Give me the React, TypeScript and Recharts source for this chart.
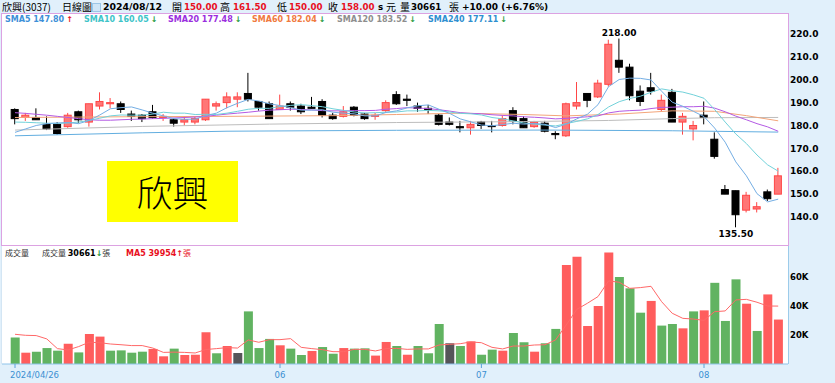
import React from 'react';
import { ComposedChart, Bar, Line, XAxis, YAxis, Cell, ReferenceDot } from 'recharts';

// ── Trading days (2024) ──
const DATES = [
  '04/26', '04/29', '04/30',
  '05/02', '05/03', '05/06', '05/07', '05/08', '05/09', '05/10', '05/13', '05/14', '05/15', '05/16', '05/17',
  '05/20', '05/21', '05/22', '05/23', '05/24', '05/27', '05/28', '05/29', '05/30', '05/31',
  '06/03', '06/04', '06/05', '06/06', '06/07', '06/11', '06/12', '06/13', '06/14', '06/17', '06/18', '06/19',
  '06/20', '06/21', '06/24', '06/25', '06/26', '06/27', '06/28',
  '07/01', '07/02', '07/03', '07/04', '07/05', '07/08', '07/09', '07/10', '07/11', '07/12', '07/15', '07/16',
  '07/17', '07/18', '07/19', '07/22', '07/23', '07/26', '07/29', '07/30', '07/31',
  '08/01', '08/02', '08/05', '08/06', '08/07', '08/08', '08/09', '08/12',
];

const OPEN = [
  187, 183.5, 183.5, 180.5, 180.5, 179.5, 186, 181.5, 188.5, 189.5,
  189.5, 185, 184.5, 186, 183.5, 182.5, 181.5, 181.5, 182.5, 188.5,
  190, 191.5, 194, 190.5, 189.5, 187, 189.5, 188.5, 188, 190.5,
  184.5, 184, 188, 185, 184, 186.5, 193.5, 191.5, 188.5, 187.5,
  184.5, 181.5, 179.5, 179, 181.5, 180, 180, 186.5, 183, 179.5,
  181, 176.5, 175.5, 188.5, 194, 192.5, 198, 208.5, 205.5, 195,
  196.5, 187, 194.5, 181.5, 178.5, 184.5, 174, 152, 151.5, 143,
  143.5, 151, 150,
];
const HIGH = [
  187.5, 185.5, 187.5, 184, 181.5, 185.5, 186.5, 189.5, 194.5, 192,
  190.5, 186.5, 185, 189, 185, 183, 184, 184, 191.5, 190.5,
  194.5, 194.5, 203, 190.5, 190.5, 193.5, 190.5, 189.5, 192.5, 191.5,
  185.5, 188.5, 188.5, 185.5, 185.5, 191, 195, 193.5, 190, 189,
  185, 183.5, 182, 182, 182, 182, 184.5, 188, 184, 182,
  182, 177.5, 190, 199, 194, 200, 217.5, 218, 207, 197.5,
  203, 193.5, 196, 185.5, 182, 190.5, 177, 154, 151.5, 151,
  146.5, 152, 161.5,
];
const LOW = [
  180.5, 182, 182.5, 178, 176, 179, 181, 179.5, 187, 187.5,
  185.5, 182, 181.5, 183, 182, 179.5, 180, 180.5, 182, 186.5,
  187.5, 188, 190.5, 186.5, 183, 187, 186.5, 185, 187.5, 183.5,
  182.5, 183.5, 184, 182.5, 182.5, 186, 189, 188.5, 186, 185,
  180, 180, 177, 176, 178.5, 177, 179.5, 180.5, 179, 179,
  177, 174, 175, 187, 188, 192, 197, 203, 191, 188.5,
  193.5, 186, 181.5, 176, 173.5, 180.5, 165.5, 150, 135.5, 142,
  142, 147, 150,
];
const CLOSE = [
  183, 184.5, 182.5, 178.5, 176.5, 184.5, 182.5, 189.5, 190.5, 190,
  187, 184, 183, 183.5, 184, 181, 182.5, 183, 191.5, 189.5,
  192.5, 192.5, 191.5, 188, 183, 188.5, 188, 186, 187.5, 184.5,
  183, 186, 184.5, 183, 184.5, 190, 189.5, 191, 187.5, 187,
  180.5, 180.5, 179, 180.5, 180, 179.5, 183, 182, 179, 181.5,
  177.5, 176, 189.5, 190, 191, 198.5, 215.5, 205.5, 193, 190.5,
  195, 191, 181.5, 184, 180, 183.5, 166.5, 150, 141, 149.5,
  144.5, 148, 158,
];
const PREV_CLOSE = 186; // close of the day before 04/26

const VOLUME = [
  18200, 7800, 8500, 11000, 9200, 14000, 8000, 20700, 18900, 9200,
  9400, 7800, 8500, 10400, 5300, 10600, 6200, 6400, 21900, 7400,
  12400, 7600, 36300, 11000, 17300, 12900, 10600, 6200, 9000, 11700,
  7100, 11000, 10600, 10800, 5800, 15200, 12400, 6400, 12400, 7400,
  27600, 14300, 12400, 15600, 6400, 9900, 9200, 21400, 15000, 8500,
  14300, 24200, 68300, 74000, 26200, 40000, 77000, 60000, 52200, 35400,
  43500, 26500, 27600, 24600, 36300, 37000, 56000, 29700, 58400, 41600,
  22800, 48000, 30661,
];
const VOL_MA5 = [
  20500, 19800, 19600, 17300, 10600, 9700, 12000, 15000, 14700, 13800,
  13300, 12700, 12700, 11000, 8000, 8200, 8000, 7600, 10000, 10600,
  11300, 11000, 16600, 15000, 16800, 16800, 17500, 11500, 10600, 9900,
  8500, 8500, 10100, 10100, 9000, 10600, 10800, 10100, 10400, 10400,
  13100, 13600, 14000, 15200, 14700, 11500, 10400, 12400, 12400, 13100,
  13300, 16600, 26900, 37700, 41900, 46500, 57300, 56400, 52200, 52700,
  53600, 43000, 35000, 31500, 31000, 30100, 36100, 36600, 44200, 44600,
  42600, 40000, 39954,
];

const SMA5 = [
  177, 178.5, 180, 180.8, 181.1, 181.3, 180.8, 182.2, 184.6, 187.3,
  187.8, 188.1, 186.8, 185.4, 184.2, 183, 182.7, 182.8, 184.3, 185.4,
  187.8, 189.7, 191.4, 190.7, 189.5, 188.7, 187.8, 186.7, 186.7, 186.9,
  185.8, 185.4, 185.1, 184.2, 184.2, 185.7, 186.4, 187.7, 188.6, 189,
  187.1, 185.3, 182.9, 181.6, 180.2, 179.9, 180.4, 181, 180.6, 180.9,
  180.5, 179.1, 180.6, 182.9, 184.9, 189.1, 197, 200.1, 200.7, 200.6,
  199.9, 195, 190.2, 188.4, 186.2, 183.9, 178.9, 172.7, 164.1, 158,
  150.2, 146.6, 147.8,
];
const SMA10 = [
  181.5, 181.4, 181.2, 181, 180.9, 181.1, 181.5, 182.2, 183.2, 184.2,
  184.6, 184.5, 184.5, 185, 185.8, 185.4, 185.4, 184.8, 184.9, 184.8,
  185.4, 186.2, 187.1, 187.5, 187.5, 188.3, 188.8, 189.1, 188.7, 188.2,
  187.3, 186.6, 185.9, 185.5, 185.6, 185.8, 185.9, 186.4, 186.4, 186.6,
  186.4, 185.9, 185.3, 185.1, 184.6, 183.5, 182.9, 182, 181.1, 180.6,
  180.2, 179.8, 180.8, 181.8, 182.9, 184.8, 188.1, 190.4, 191.8, 192.8,
  194.5, 196, 195.2, 194.6, 193.4, 191.9, 187, 181.5, 176.3, 172.1,
  167.1, 162.8, 160.05,
];
const SMA20 = [
  185.6, 185.3, 184.9, 184.5, 184, 183.5, 183, 182.5, 182.3, 182.3,
  182.5, 182.7, 182.8, 183, 183.1, 183.3, 183.5, 183.7, 184, 184.5,
  185, 185.4, 185.8, 186.3, 186.7, 186.9, 187.1, 187, 186.8, 186.5,
  186.4, 186.4, 186.5, 186.5, 186.6, 187.1, 187.4, 187.8, 187.6, 187.4,
  186.9, 186.3, 185.6, 185.3, 185.1, 184.7, 184.4, 184.2, 183.8, 183.6,
  183.3, 182.9, 183.1, 183.5, 183.8, 184.2, 185.5, 186.2, 186.5, 186.7,
  187.4, 187.9, 188, 188.2, 188.2, 188.4, 187.6, 186, 184.1, 182.5,
  180.8, 179.4, 177.48,
];
// long averages are almost straight, so they are read at a few days only: [day index, value]
const SMA60_PTS = [[0, 183.5], [10, 183.8], [20, 184], [30, 184.3], [36, 184.8], [42, 185.4], [48, 184.8], [52, 184.2], [57, 185], [62, 186.4], [66, 186.2], [69, 184.3], [72, 182.04]];
const SMA120_PTS = [[0, 178], [12, 179.6], [24, 180.6], [36, 181.3], [48, 181.7], [56, 182.2], [62, 183], [66, 183.4], [72, 183.52]];
const SMA240_PTS = [[0, 175.5], [12, 176.8], [20, 177.5], [36, 177.9], [50, 178], [62, 177.7], [72, 177.11]];

const PRICE_TICKS = [140, 150, 160, 170, 180, 190, 200, 210, 220];
const VOL_TICKS = [20000, 40000, 60000];
const DATE_LABELS: Record<string, string> = { '04/26': '2024/04/26', '06/03': '06', '07/01': '07', '08/01': '08' };

const rows = DATES.map((d, i) => ({
  d,
  o: OPEN[i],
  h: HIGH[i],
  l: LOW[i],
  c: CLOSE[i],
  range: [LOW[i], HIGH[i]],
  prev: i === 0 ? PREV_CLOSE : CLOSE[i - 1],
  vol: VOLUME[i],
  volMa: VOL_MA5[i],
  ma5: SMA5[i],
  ma10: SMA10[i],
  ma20: SMA20[i],
  ma60: null as number | null,
  ma120: null as number | null,
  ma240: null as number | null,
}));
SMA60_PTS.forEach(([i, v]) => (rows[i].ma60 = v));
SMA120_PTS.forEach(([i, v]) => (rows[i].ma120 = v));
SMA240_PTS.forEach(([i, v]) => (rows[i].ma240 = v));

const CJK = '"Noto Sans CJK TC", "Noto Sans CJK SC", sans-serif';
const LATIN = '"DejaVu Sans", Verdana, sans-serif';
const RED_TXT = '#e8101e';
const GREEN_ARROW = '#1e9a3c';

// candle drawn inside the low..high range bar
function Candle(props: any) {
  const { x, y, width, height, payload } = props;
  if (!payload || height == null) return null;
  const { o, h, l, c } = payload;
  const hh = Math.abs(height);
  const top = height >= 0 ? y : y + height;
  const ppu = h > l ? hh / (h - l) : 0;
  const py = (v: number) => top + (h - v) * ppu;
  const cx = x + width / 2;
  const up = c > o;
  const edge = up ? '#ff4646' : '#000';
  const fill = up ? '#ff7676' : '#000';
  const bTop = py(Math.max(o, c));
  const bh = Math.max(py(Math.min(o, c)) - bTop, 1);
  return (
    <g>
      <line x1={cx} x2={cx} y1={top} y2={top + hh} stroke={edge} strokeWidth={1} />
      <rect x={cx - 3.5} y={bTop} width={7} height={bh} fill={fill} stroke={edge} strokeWidth={1} />
    </g>
  );
}

function DateTick(props: any) {
  const { x, y, payload } = props;
  const label = DATE_LABELS[payload?.value];
  if (!label) return <g />;
  const first = payload.value === DATES[0];
  return (
    <g>
      <line x1={x} x2={x} y1={y - 8} y2={y - 4} stroke="#5aa2da" strokeWidth={1} />
      <text x={first ? x - 5 : x} y={y + 6} textAnchor={first ? 'start' : 'middle'} fontSize={8.5} fill="#3a8fd2" fontFamily={LATIN}>
        {label}
      </text>
    </g>
  );
}

const HEADER = [
  { x: 2, t: '欣興(3037)', cjk: true },
  { x: 62, t: '日線圖', cjk: true },
  { x: 103, t: '2024/08/12', b: true, fs: 9.4 },
  { x: 172, t: '開', cjk: true },
  { x: 184, t: '150.00', b: true, red: true },
  { x: 220, t: '高', cjk: true },
  { x: 233, t: '161.50', b: true, red: true },
  { x: 277, t: '低', cjk: true },
  { x: 289, t: '150.00', b: true, red: true },
  { x: 328, t: '收', cjk: true },
  { x: 341, t: '158.00', b: true, red: true },
  { x: 378, t: 's', b: true },
  { x: 386, t: '元', cjk: true },
  { x: 400, t: '量', cjk: true },
  { x: 411, t: '30661', b: true },
  { x: 449, t: '張', cjk: true },
  { x: 462, t: '+10.00 (+6.76%)', b: true, fs: 9 },
];

const LEGEND = [
  { x: 5, t: 'SMA5 147.80', color: '#3d8fd8', up: true },
  { x: 84, t: 'SMA10 160.05', color: '#3ec4c8', up: false },
  { x: 168, t: 'SMA20 177.48', color: '#9a2ede', up: false },
  { x: 252, t: 'SMA60 182.04', color: '#f07a40', up: false },
  { x: 337, t: 'SMA120 183.52', color: '#8e8e8e', up: false },
  { x: 428, t: 'SMA240 177.11', color: '#2f8fd0', up: false },
];

export default function App() {
  const abs = (l: number, t: number): React.CSSProperties => ({ position: 'absolute', left: l, top: t, whiteSpace: 'nowrap' });
  return (
    <div style={{ position: 'relative', width: 835, height: 383, background: '#e1f0fb', overflow: 'hidden', fontFamily: LATIN }}>
      <style>{'body{margin:0}'}</style>

      {/* header line */}
      {HEADER.map((h, i) => (
        <span
          key={i}
          style={{
            ...abs(h.x, 0),
            lineHeight: '14px',
            fontSize: h.cjk ? 10 : h.fs ?? 8.7,
            fontWeight: h.b ? 'bold' : 'normal',
            fontFamily: h.cjk ? CJK : LATIN,
            color: h.red ? RED_TXT : '#000',
          }}
        >
          {h.t}
        </span>
      ))}
      <div style={{ ...abs(92, 3), width: 7, height: 7, border: '1px solid #9cc6e6', background: '#cfe6f7' }} />

      {/* panels */}
      <div style={{ ...abs(1, 13), width: 788, height: 233, background: '#fff', border: '1px solid #dca2e2', boxSizing: 'border-box' }} />
      <div style={{ ...abs(1, 246), width: 788, height: 118, background: '#fff', borderRight: '1px solid #9ccbea', borderLeft: '1px solid #d4e6f4', boxSizing: 'border-box' }} />

      {/* price chart */}
      <div style={abs(0, 14)}>
        <ComposedChart width={835} height={231} data={rows} margin={{ top: 0, right: 0, bottom: 0, left: 2 }}>
          <XAxis dataKey="d" hide padding={{ left: 7.7, right: 4.5 }} />
          <YAxis
            orientation="right"
            width={47}
            domain={[127.77, 228.73]}
            allowDataOverflow
            ticks={PRICE_TICKS}
            axisLine={false}
            tickLine={false}
            tickSize={0}
            tickMargin={2}
            tick={{ fontSize: 9, fontWeight: 'bold', fill: '#000' }}
            tickFormatter={(v: number) => v.toFixed(1)}
          />
          <Bar dataKey="range" barSize={8} shape={<Candle />} isAnimationActive={false} />
          <Line dataKey="ma240" stroke="#62aee0" strokeWidth={1} dot={false} connectNulls isAnimationActive={false} />
          <Line dataKey="ma120" stroke="#bdbdbd" strokeWidth={1} dot={false} connectNulls isAnimationActive={false} />
          <Line dataKey="ma60" stroke="#f3a57a" strokeWidth={1} dot={false} connectNulls isAnimationActive={false} />
          <Line dataKey="ma20" stroke="#b45ae4" strokeWidth={1} dot={false} isAnimationActive={false} />
          <Line dataKey="ma10" stroke="#72d2da" strokeWidth={1} dot={false} isAnimationActive={false} />
          <Line dataKey="ma5" stroke="#74aee4" strokeWidth={1} dot={false} isAnimationActive={false} />
          <ReferenceDot
            x="07/18"
            y={218}
            r={0}
            fill="none"
            stroke="none"
            label={{ value: '218.00', position: 'top', offset: 3, fontSize: 9, fontWeight: 'bold', fill: '#000' }}
          />
          <ReferenceDot
            x="08/06"
            y={135.5}
            r={0}
            fill="none"
            stroke="none"
            label={{ value: '135.50', position: 'bottom', offset: 3, fontSize: 9, fontWeight: 'bold', fill: '#000' }}
          />
        </ComposedChart>
      </div>

      {/* MA legend */}
      {LEGEND.map((m, i) => (
        <span key={i} style={{ ...abs(m.x, 14), lineHeight: '11px', fontSize: 8, fontWeight: 'bold', color: m.color }}>
          {m.t}
          <span style={{ color: m.up ? RED_TXT : GREEN_ARROW, marginLeft: 2 }}>{m.up ? '↑' : '↓'}</span>
        </span>
      ))}

      {/* name box */}
      <div
        style={{
          ...abs(107, 161),
          width: 131,
          height: 61,
          background: '#ffff00',
          textAlign: 'center',
          lineHeight: '61px',
          fontSize: 36,
          fontFamily: CJK,
          fontWeight: 300,
          color: '#000',
        }}
      >
        欣興
      </div>

      {/* volume chart */}
      <div style={abs(0, 246)}>
        <ComposedChart width={835} height={137} data={rows} margin={{ top: 0, right: 0, bottom: 0, left: 2 }}>
          <XAxis
            dataKey="d"
            height={19}
            padding={{ left: 7.7, right: 4.5 }}
            interval={0}
            tickLine={false}
            axisLine={{ stroke: '#8ec3ea' }}
            tick={<DateTick />}
          />
          <YAxis
            orientation="right"
            width={47}
            domain={[0, 81400]}
            allowDataOverflow
            ticks={VOL_TICKS}
            axisLine={false}
            tickLine={false}
            tickSize={0}
            tickMargin={2}
            tick={{ fontSize: 8.5, fontWeight: 'bold', fill: '#000' }}
            tickFormatter={(v: number) => `${v / 1000}K`}
          />
          <Bar dataKey="vol" barSize={9} isAnimationActive={false}>
            {rows.map((r, i) => (
              <Cell key={i} fill={r.c > r.prev ? '#ff5d5d' : r.c < r.prev ? '#61b361' : '#555559'} />
            ))}
          </Bar>
          <Line dataKey="volMa" stroke="#ff6868" strokeWidth={1} dot={false} isAnimationActive={false} />
        </ComposedChart>
      </div>

      {/* volume header */}
      <span style={{ ...abs(5, 247), lineHeight: '11px', fontSize: 8, fontFamily: CJK, color: '#333' }}>成交量</span>
      <span style={{ ...abs(42, 247), lineHeight: '11px', fontSize: 8, color: '#333' }}>
        <span style={{ fontFamily: CJK }}>成交量 </span>
        <b style={{ color: '#000' }}>30661</b>
        <b style={{ color: GREEN_ARROW }}>↓</b>
        <span style={{ fontFamily: CJK }}>張</span>
      </span>
      <span style={{ ...abs(126, 247), lineHeight: '11px', fontSize: 8, color: RED_TXT }}>
        <b>MA5 39954</b>
        <b>↑</b>
        <span style={{ fontFamily: CJK }}>張</span>
      </span>
    </div>
  );
}
